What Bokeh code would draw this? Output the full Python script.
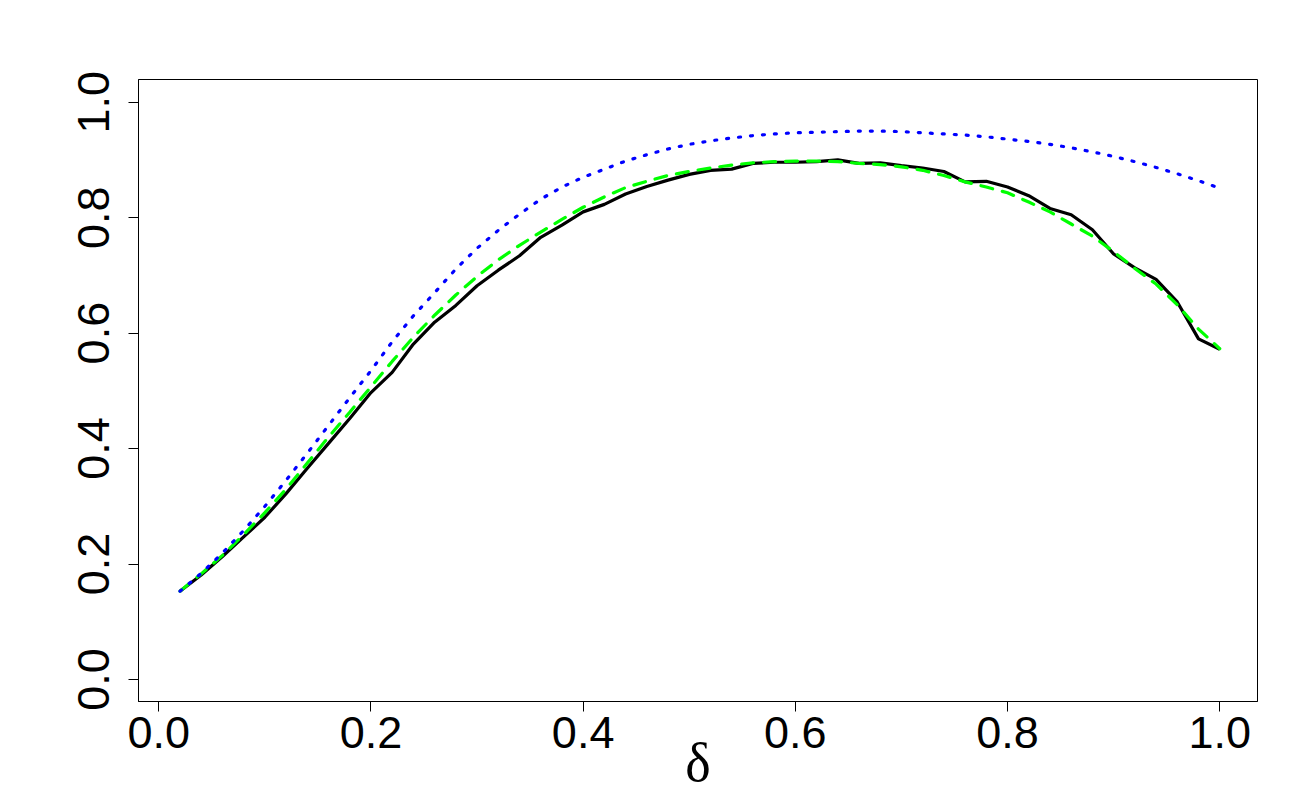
from bokeh.plotting import figure
from bokeh.models import Range1d, FixedTicker, PrintfTickFormatter
from bokeh.embed import file_html
from bokeh.resources import INLINE

# ---- data ----
delta = [0.02, 0.04, 0.06, 0.08, 0.10, 0.12, 0.14, 0.16, 0.18, 0.20,
         0.22, 0.24, 0.26, 0.28, 0.30, 0.32, 0.34, 0.36, 0.38, 0.40,
         0.42, 0.44, 0.46, 0.48, 0.50, 0.52, 0.54, 0.56, 0.58, 0.60,
         0.62, 0.64, 0.66, 0.68, 0.70, 0.72, 0.74, 0.76, 0.78, 0.80,
         0.82, 0.84, 0.86, 0.88, 0.90, 0.92, 0.94, 0.96, 0.98, 1.00]

power_empirical = [0.153, 0.181, 0.213, 0.247, 0.281, 0.322, 0.366, 0.409, 0.452, 0.497,
                   0.532, 0.581, 0.619, 0.648, 0.682, 0.709, 0.734, 0.766, 0.787, 0.810,
                   0.823, 0.841, 0.854, 0.865, 0.875, 0.882, 0.884, 0.894, 0.896, 0.896,
                   0.897, 0.900, 0.894, 0.895, 0.890, 0.886, 0.880, 0.862, 0.863, 0.853,
                   0.838, 0.816, 0.805, 0.779, 0.737, 0.713, 0.693, 0.654, 0.590, 0.572]

power_approx = [0.153, 0.183, 0.215, 0.251, 0.289, 0.330, 0.375, 0.420, 0.463, 0.507,
                0.551, 0.593, 0.631, 0.666, 0.698, 0.727, 0.752, 0.775, 0.797, 0.818,
                0.836, 0.852, 0.863, 0.873, 0.880, 0.886, 0.891, 0.895, 0.897, 0.898,
                0.898, 0.897, 0.894, 0.892, 0.888, 0.882, 0.873, 0.862, 0.853, 0.843,
                0.827, 0.810, 0.789, 0.768, 0.741, 0.712, 0.685, 0.649, 0.607, 0.573]

power_upper = [0.153, 0.184, 0.219, 0.258, 0.300, 0.345, 0.392, 0.440, 0.488, 0.535,
               0.585, 0.630, 0.670, 0.711, 0.747, 0.778, 0.806, 0.832, 0.853, 0.870,
               0.884, 0.898, 0.909, 0.919, 0.927, 0.933, 0.938, 0.942, 0.945, 0.947,
               0.948, 0.949, 0.950, 0.950, 0.949, 0.947, 0.945, 0.943, 0.940, 0.936,
               0.932, 0.927, 0.921, 0.914, 0.906, 0.897, 0.887, 0.876, 0.864, 0.851]

tick_values = [0.0, 0.2, 0.4, 0.6, 0.8, 1.0]
x_title = "δ"

# ---- figure ----
p = figure(frame_width=1119, frame_height=622, output_backend="svg",
           toolbar_location=None,
           x_range=Range1d(-0.0191, 1.0356), y_range=Range1d(-0.0381, 1.0393),
           min_border_left=138, min_border_right=27, min_border_top=79,
           min_border_bottom=83)

p.background_fill_color = "white"
p.border_fill_color = "white"
p.outline_line_color = "black"
p.outline_line_width = 1
p.grid.visible = False

for ax in (p.xaxis[0], p.yaxis[0]):
    ax.ticker = FixedTicker(ticks=tick_values)
    ax.formatter = PrintfTickFormatter(format="%.1f")
    ax.axis_line_color = "black"
    ax.axis_line_width = 1
    ax.major_tick_line_color = "black"
    ax.major_tick_line_width = 1
    ax.major_tick_in = 0
    ax.major_tick_out = 10
    ax.minor_tick_line_color = None
    ax.major_label_text_font = "Liberation Sans"
    ax.major_label_text_font_size = "45px"
    ax.major_label_text_color = "black"

p.xaxis.major_label_standoff = 5
p.yaxis.major_label_standoff = 19
p.yaxis.major_label_orientation = "vertical"

p.xaxis.axis_label = x_title
p.xaxis.axis_label_text_font = "Liberation Serif"
p.xaxis.axis_label_text_font_style = "normal"
p.xaxis.axis_label_text_font_size = "54px"
p.xaxis.axis_label_text_color = "black"
p.xaxis.axis_label_standoff = -18

p.line(delta, power_empirical, line_color="black", line_width=3.2)
p.line(delta, power_approx, line_color="#00ff00", line_width=3.2,
       line_dash="12 10", line_cap="round")
p.line(delta, power_upper, line_color="#0000ff", line_width=3.2,
       line_dash="2 10", line_cap="round")

open("out.html", "w").write(file_html(p, INLINE))
